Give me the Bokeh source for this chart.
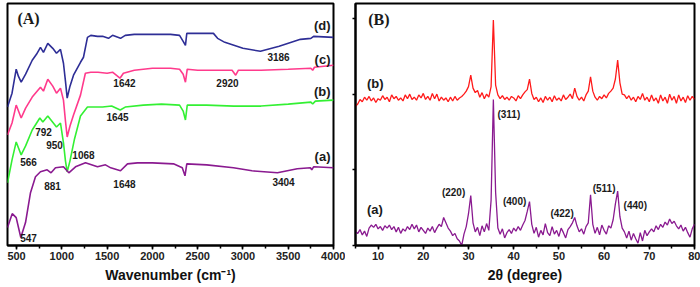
import numpy as np
from bokeh.plotting import figure
from bokeh.layouts import row
from bokeh.models import Range1d, SingleIntervalTicker, FixedTicker, Label
from bokeh.embed import file_html
from bokeh.resources import INLINE

# ---------------- Panel A: FTIR ----------------
wn_d = [400, 450, 496, 520, 551, 600, 673, 720, 764, 797, 845, 900, 941, 985, 1018, 1040, 1059, 1090,
        1129, 1206, 1239, 1283, 1320, 1394, 1450, 1515, 1560, 1648, 1700, 1800, 2000, 2200, 2300,
        2340, 2365, 2380, 2500, 2674, 2720, 2800, 3000, 3193, 3400, 3635, 3750, 3780, 4000]
tr_d = [139, 153, 177, 170, 164, 172, 186, 192, 199, 194, 203, 198, 193, 197, 183, 165, 148, 160,
        171, 184, 189, 209, 211, 210, 210, 208, 211, 208, 211, 212, 212, 212, 211,
        205, 201, 213, 213, 213, 208, 204, 198, 195, 200, 207, 208, 210, 209]

wn_c = [400, 450, 496, 551, 600, 673, 764, 797, 845, 900, 941, 985, 1018, 1040, 1059, 1090, 1129,
        1206, 1260, 1320, 1400, 1500, 1560, 1642, 1680, 1800, 2000, 2200, 2300, 2340, 2365, 2385,
        2500, 2700, 2880, 2920, 2950, 3200, 3500, 3750, 3770, 3790, 4000]
tr_c = [111, 123, 141, 128, 138, 149, 159, 155, 167, 160, 153, 158, 146, 125, 109, 120, 131,
        151, 173, 174, 174, 173, 174, 168, 173, 176, 178, 178, 177, 172, 164, 177,
        176, 176, 176, 171, 176, 176, 177, 178, 176, 179, 181]

wn_b = [400, 450, 496, 551, 600, 673, 757, 790, 845, 941, 985, 1018, 1040, 1059, 1090, 1140, 1206,
        1283, 1350, 1450, 1550, 1645, 1700, 1900, 2100, 2300, 2340, 2365, 2385, 2600, 2900, 3200,
        3500, 3750, 3770, 3800, 4000]
tr_b = [63, 86, 104, 91, 100, 116, 128, 124, 130, 119, 123, 103, 85, 74, 85, 107, 130,
        139, 139, 139, 140, 136, 139, 141, 142, 141, 135, 126, 141, 141, 140, 140,
        142, 144, 142, 145, 146]

wn_a = [400, 452, 496, 547, 599, 654, 709, 764, 838, 881, 930, 1018, 1077, 1151, 1261, 1394, 1482,
        1540, 1648, 1725, 1835, 2000, 2233, 2330, 2360, 2380, 2600, 2895, 3100, 3381, 3600, 3745,
        3760, 3780, 4000]
tr_a = [18, 32, 28, 8, 23, 53, 69, 74, 76, 73, 78, 79, 73, 79, 83, 79, 81,
        78, 75, 82, 83, 83, 82, 78, 70, 82, 81, 78, 75, 73, 77, 78,
        76, 79, 78]

ftir_labels = ["(d)", "(c)", "(b)", "(a)"]
ftir_colors = ["#2e2e96", "#ff3a8c", "#33f033", "#8a1a90"]

# ---------------- Panel B: XRD ----------------
two_theta = np.arange(5.0, 80.01, 0.5)
xrd_b = [1840, 1870, 1930, 1900, 1960, 1920, 1970, 1910, 1950, 1890,
         1940, 1920, 1980, 1930, 1960, 1900, 1990, 1940, 1970, 1920,
         1950, 1910, 1990, 1940, 2000, 1930, 1960, 1920, 1990, 1950,
         2010, 1930, 1970, 1920, 2010, 1940, 2000, 1910, 1960, 1920,
         1950, 1900, 1960, 1910, 1970, 1920, 1950, 1970, 2000, 2040,
         2100, 2250, 2080, 2020, 2050, 1960, 2020, 1940, 2000, 1960,
         2100, 2980, 2120, 1990, 1940, 1980, 1930, 1960, 1920, 1970,
         1950, 1910, 1980, 1940, 1990, 2030, 2060, 2200, 2010, 1930,
         1960, 1900, 1950, 1890, 1970, 1920, 1960, 1900, 1980, 1920,
         1950, 1910, 1990, 1930, 1960, 2000, 1940, 2080, 1970, 1920,
         1960, 1910, 1990, 2040, 2230, 2040, 1960, 1920, 1970, 1940,
         1990, 1950, 2010, 2040, 2080, 2200, 2450, 2150, 2000, 1990,
         1940, 1980, 1920, 1960, 1900, 1970, 1930, 2010, 1920, 1960,
         1900, 1990, 1910, 1950, 1880, 1990, 1910, 1960, 1880, 2000,
         1920, 1970, 1880, 1990, 1910, 1960, 1890, 1980, 1920, 1970,
         1930]
xrd_a = [180, 160, 210, 140, 190, 120, 230, 270, 240, 280,
         220, 250, 200, 260, 230, 270, 210, 250, 180, 240,
         160, 220, 190, 250, 210, 280, 220, 270, 180, 240,
         200, 160, 230, 190, 250, 170, 230, 280, 250, 370,
         300, 230, 190, 130, 160, 90, 60, 0, 150, 250,
         420, 660, 300, 180, 240, 130, 260, 180, 290, 200,
         600, 1930, 700, 230, 150, 220, 100, 170, 210, 160,
         230, 190, 250, 200, 270, 330, 450, 580, 280, 160,
         240, 110, 200, 140, 290, 170, 130, 250, 150, 200,
         120, 230, 170, 100, 210, 250, 300, 370, 260, 180,
         220, 150, 250, 300, 670, 280, 160, 240, 140, 270,
         200, 150, 260, 230, 340, 550, 720, 380, 230, 180,
         100, 190, 70, 160, 90, 30, 170, 60, 200, 130,
         180, 220, 180, 260, 210, 280, 240, 310, 270, 350,
         290, 320, 260, 220, 270, 190, 240, 170, 110, 220,
         280]
xrd_colors = ["#ff1a1a", "#8a1a90"]
xrd_yticks = [0, 1000, 2000, 3000]

SANS = "Liberation Sans"
SERIF = "Liberation Serif"


def style(p):
    p.outline_line_color = "black"
    p.outline_line_width = 2
    p.outline_line_alpha = 1
    p.xgrid.visible = False
    p.ygrid.visible = False
    p.background_fill_color = "white"
    p.border_fill_color = "white"
    ax = p.xaxis[0]
    ax.axis_line_color = "black"
    ax.axis_line_width = 2
    ax.major_tick_line_width = 1.5
    ax.minor_tick_line_width = 1.5
    ax.major_tick_out = 4
    ax.major_tick_in = 0
    ax.minor_tick_out = 3
    ax.minor_tick_in = 0
    ax.major_label_text_font = SANS
    ax.major_label_text_font_style = "bold"
    ax.major_label_text_font_size = "11px"
    ax.major_label_text_color = "#222222"
    ax.major_label_standoff = 2
    ax.axis_label_text_font = SANS
    ax.axis_label_text_font_style = "bold"
    ax.axis_label_text_font_size = "14px"
    ax.axis_label_text_color = "#111111"
    ax.axis_label_standoff = 4


def lab(p, x, y, t, size="10px", align="center", font=SANS, style_="bold"):
    p.add_layout(Label(x=x, y=y, text=t, text_font=font, text_font_size=size,
                       text_font_style=style_, text_align=align, text_baseline="middle",
                       text_color="#1a1a1a"))


# ---------- Figure A ----------
pA = figure(width=345, height=287, output_backend="svg", toolbar_location=None,
            x_range=Range1d(400, 4000), y_range=Range1d(0, 243),
            min_border_left=7, min_border_right=12, min_border_top=3, min_border_bottom=41)
pA.xaxis.ticker = SingleIntervalTicker(interval=500, num_minor_ticks=2)
pA.xaxis.axis_label = "Wavenumber (cm\u207b\u00b9)"
pA.yaxis.visible = False
style(pA)

for wn, tr, c in [(wn_d, tr_d, ftir_colors[0]), (wn_c, tr_c, ftir_colors[1]),
                  (wn_b, tr_b, ftir_colors[2]), (wn_a, tr_a, ftir_colors[3])]:
    pA.line(wn, tr, line_color=c, line_width=1.6)

lab(pA, 510, 228, "(A)", size="16px", align="left", font=SERIF)
lab(pA, 3967, 221, ftir_labels[0], size="13px", align="right")
lab(pA, 3967, 187, ftir_labels[1], size="13px", align="right")
lab(pA, 3967, 155, ftir_labels[2], size="13px", align="right")
lab(pA, 3967, 89, ftir_labels[3], size="13px", align="right")
for x, y, t in [(3393, 189, "3186"), (1692, 163, "1642"), (2829, 163, "2920"),
                (1615, 129, "1645"), (798, 114, "792"), (919, 101, "950"),
                (632, 84, "566"), (1239, 91, "1068"), (897, 60, "881"),
                (1692, 62, "1648"), (3448, 64, "3404"), (632, 8, "547")]:
    lab(pA, x, y, t)

# ---------- Figure B ----------
pB = figure(width=355, height=287, output_backend="svg", toolbar_location=None,
            x_range=Range1d(5, 80), y_range=Range1d(0, 3198),
            min_border_left=10, min_border_right=6, min_border_top=2, min_border_bottom=42)
pB.xaxis.ticker = SingleIntervalTicker(interval=10, num_minor_ticks=2)
pB.xaxis.axis_label = "2\u03b8 (degree)"
style(pB)
pB.yaxis.ticker = FixedTicker(ticks=xrd_yticks)
pB.yaxis.major_label_overrides = {t: "" for t in xrd_yticks}
pB.yaxis.major_tick_out = 3
pB.yaxis.major_tick_in = 0
pB.yaxis.minor_tick_out = 0
pB.yaxis.axis_line_width = 2
pB.yaxis.major_tick_line_width = 1.5
pB.yaxis.major_label_standoff = 0

pB.line(two_theta, xrd_b, line_color=xrd_colors[0], line_width=1.3)
pB.line(two_theta, xrd_a, line_color=xrd_colors[1], line_width=1.3)

lab(pB, 7.8, 2987, "(B)", size="16px", align="left", font=SERIF)
lab(pB, 7.55, 2145, "(b)", size="13px", align="left")
lab(pB, 7.55, 474, "(a)", size="13px", align="left")
for x, y, t, al in [(36.4, 1737, "(311)", "left"), (26.7, 697, "(220)", "center"),
                    (40.2, 579, "(400)", "center"), (50.7, 421, "(422)", "center"),
                    (60.0, 750, "(511)", "center"), (66.9, 526, "(440)", "center")]:
    lab(pB, x, y, t, align=al)

open("out.html", "w").write(file_html(row(pA, pB), INLINE))
